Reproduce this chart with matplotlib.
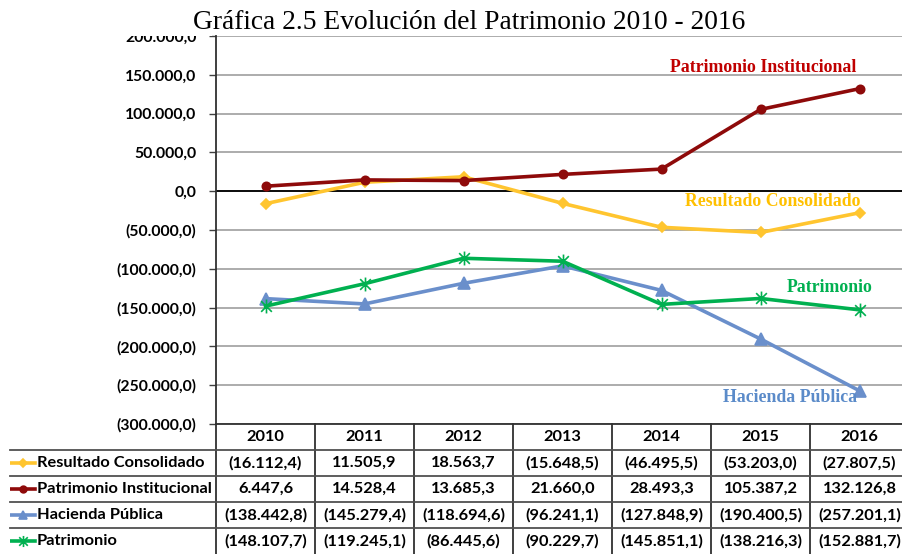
import matplotlib
matplotlib.use("Agg")
import matplotlib.pyplot as plt
from matplotlib.lines import Line2D
from matplotlib.path import Path
from matplotlib.patches import Rectangle

years = ["2010", "2011", "2012", "2013", "2014", "2015", "2016"]
series_names = ["Resultado Consolidado", "Patrimonio Institucional", "Hacienda Pública", "Patrimonio"]
resultado = [-16112.4, 11505.9, 18563.7, -15648.5, -46495.5, -53203.0, -27807.5]
patrimonio_inst = [6447.6, 14528.4, 13685.3, 21660.0, 28493.3, 105387.2, 132126.8]
hacienda = [-138442.8, -145279.4, -118694.6, -96241.1, -127848.9, -190400.5, -257201.1]
patrimonio = [-148107.7, -119245.1, -86445.6, -90229.7, -145851.1, -138216.3, -152881.7]
y_ticks = [200000, 150000, 100000, 50000, 0, -50000, -100000, -150000, -200000, -250000, -300000]

asterisk = Path([(-1, -1), (1, 1), (-1, 1), (1, -1), (0, -1.3), (0, 1.3)],
                [Path.MOVETO, Path.LINETO, Path.MOVETO, Path.LINETO, Path.MOVETO, Path.LINETO])

series = [resultado, patrimonio_inst, hacienda, patrimonio]
line_colors = ["#FFC52F", "#8E0A0A", "#6A8FCB", "#00B050"]
label_colors = ["#FFC000", "#C00000", "#5B8BC9", "#00B050"]
markers = ["D", "o", "^", asterisk]
msizes = [5, 6, 8, 10]
mfcs = ["#FFC52F", "#8E0A0A", "#6A8FCB", "none"]

def fmt(v):
    s = f"{abs(v):,.1f}".replace(",", "X").replace(".", ",").replace("X", ".")
    return f"({s})" if v < 0 else s

W, H = 902, 554
fig = plt.figure(figsize=(W / 100, H / 100), dpi=100)
tick_font = "Lato"
fs_tab = 11.8

L, R, T, B = 216, 909, 36, 424
ax = fig.add_axes([L / W, 1 - B / H, (R - L) / W, (B - T) / H])
x = list(range(len(years)))
for vals, c, m, ms, fc in zip(series, line_colors, markers, msizes, mfcs):
    ax.plot(x, vals, color=c, lw=2.6, marker=m, ms=ms, mec=c, mfc=fc, mew=1.2, zorder=3)

ax.set_xlim(-0.5, len(years) - 0.5)
ax.set_ylim(-300000, 200000)
ax.set_yticks(y_ticks)
ax.set_yticklabels([fmt(v) for v in y_ticks], fontfamily=tick_font, fontweight="bold", fontsize=11.3)
ax.tick_params(axis="y", length=5, width=1, color="#404040", pad=9)
ax.set_xticks([])
ax.grid(axis="y", color="#A6A6A6", lw=1.3, zorder=0)
ax.axhline(0, color="black", lw=1.3, zorder=2)
for s in ["top", "right"]:
    ax.spines[s].set_visible(False)
ax.spines["left"].set_color("#303030")
ax.spines["left"].set_linewidth(1.3)
ax.spines["bottom"].set_color("#303030")
ax.spines["bottom"].set_linewidth(1.3)

# series labels
lab_pos = [(5.12, -13000), (5.03, 160000), (5.3, -266000), (5.7, -124500)]
for name, (lx, ly), c in zip(series_names, lab_pos, label_colors):
    ax.text(lx, ly, name, color=c, ha="center", va="center", fontfamily="Liberation Serif",
            fontweight="bold", fontsize=12.8)

# white title band (hides the top of the first tick label, as in the original)
fig.patches.append(Rectangle((0, 1 - 35.5 / H), 212 / W, 35.5 / H, transform=fig.transFigure,
                             facecolor="white", edgecolor="none", zorder=5))
fig.text(469 / W, 1 - 22.5 / H, "Gráfica 2.5 Evolución del Patrimonio 2010 - 2016",
         ha="center", va="center", fontfamily="Liberation Serif", fontsize=19.8, zorder=10)

# data table
tL, tR, tT, tB = 10, 909, 424, 554
tab = fig.add_axes([tL / W, 1 - tB / H, (tR - tL) / W, (tB - tT) / H])
tab.set_xlim(tL, tR)
tab.set_ylim(tB, tT)
tab.axis("off")
row_h = 26
col_w = (R - L) / len(years)
for i in range(len(years) + 1):
    xv = L + i * col_w
    tab.plot([xv, xv], [tT, tB], color="#303030", lw=1.3, clip_on=False)
for r in range(1, 5):
    yv = tT + r * row_h
    tab.plot([tL, tR], [yv, yv], color="#505050", lw=1.3, clip_on=False)
for i, yr in enumerate(years):
    tab.text(L + (i + 0.5) * col_w, tT + row_h / 2, yr, ha="center", va="center",
             fontfamily=tick_font, fontweight="bold", fontsize=fs_tab)
for r, (name, vals, c, m, ms, fc) in enumerate(zip(series_names, series, line_colors, markers, msizes, mfcs)):
    yc = tT + (r + 1.5) * row_h
    tab.add_line(Line2D([tL, tL + 25], [yc, yc], color=c, lw=2.6))
    tab.plot([tL + 12.5], [yc], marker=m, color=c, ms=ms * 0.8, mec=c, mfc=fc, mew=1.2)
    tab.text(tL + 27, yc, name, ha="left", va="center", fontfamily=tick_font,
             fontweight="bold", fontsize=fs_tab)
    for i, v in enumerate(vals):
        tab.text(L + (i + 0.5) * col_w, yc, fmt(v), ha="center", va="center",
                 fontfamily=tick_font, fontweight="bold", fontsize=fs_tab)

fig.savefig("out.png", dpi=100)
